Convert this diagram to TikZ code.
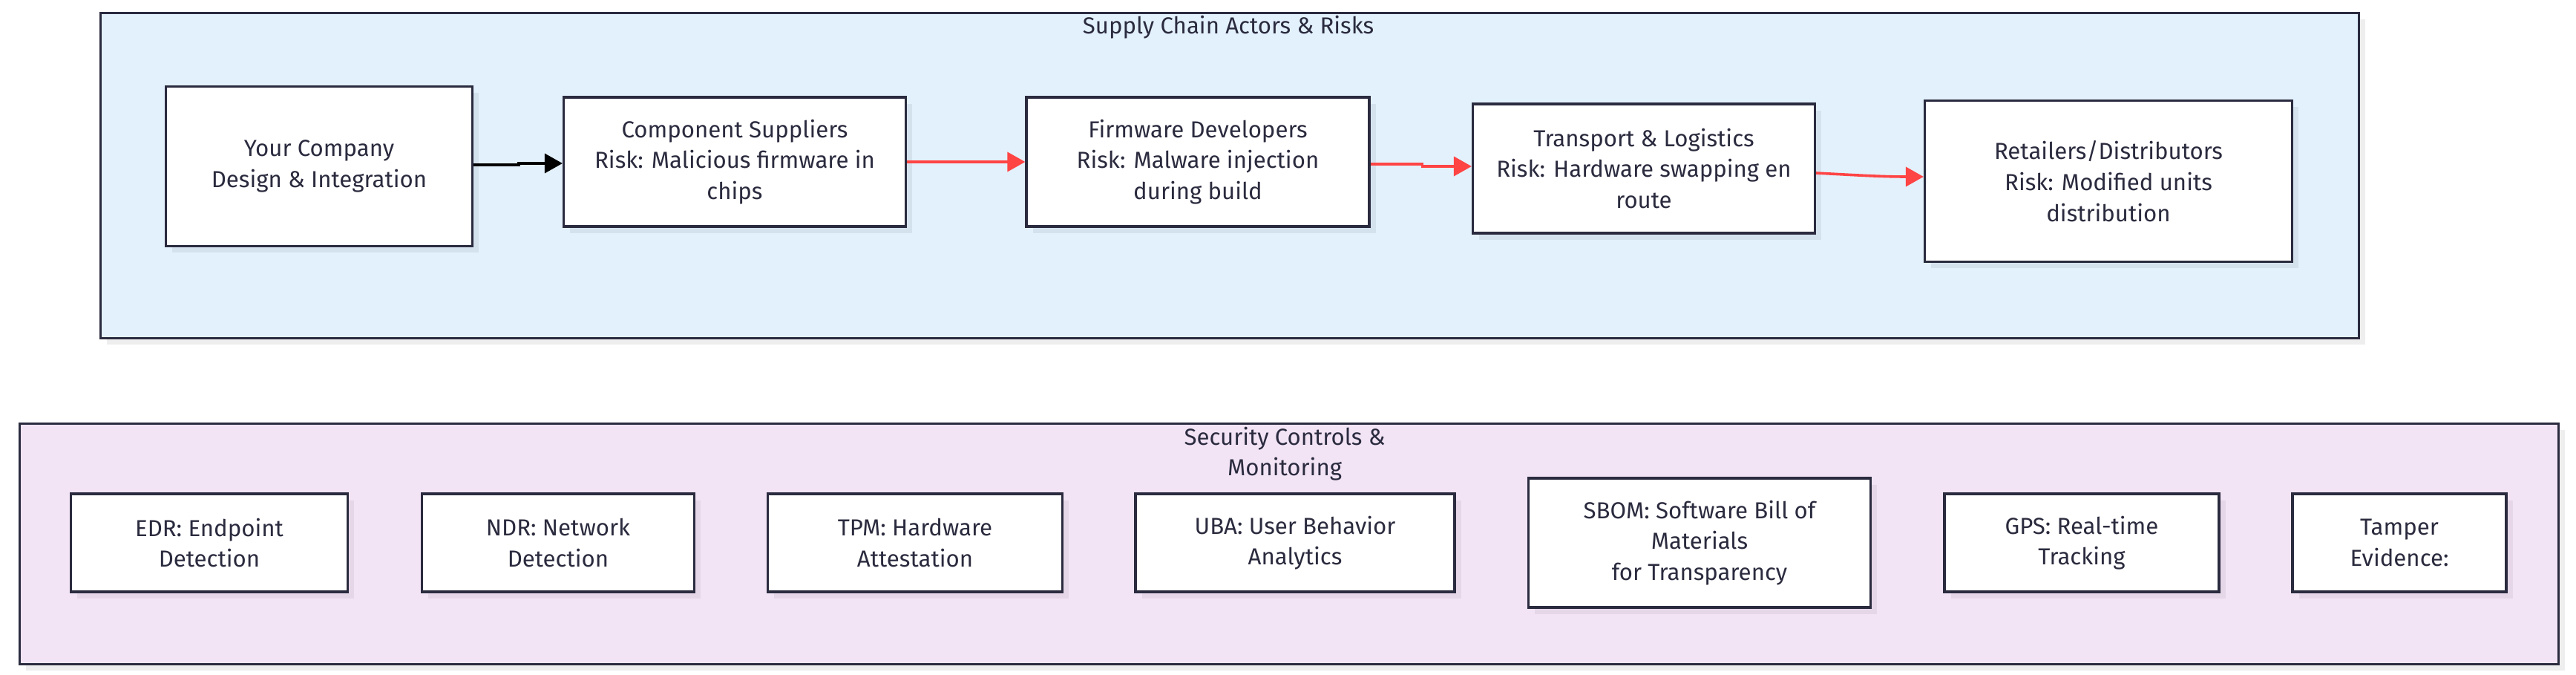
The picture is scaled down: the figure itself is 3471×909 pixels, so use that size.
\documentclass[tikz,border=0pt]{standalone}
\usepackage{fontspec}
\setmainfont{Fira Sans}
\usepackage{xcolor}
\usetikzlibrary{arrows.meta, positioning, shadows}

\definecolor{edgec}{HTML}{2B2B3F}
\definecolor{textc}{HTML}{2B2B3F}
\definecolor{riskred}{HTML}{FF4444}
\definecolor{actorfill}{HTML}{E3F1FC}
\definecolor{ctrlfill}{HTML}{F2E4F5}
\definecolor{actorshadow}{HTML}{D4E2EE}
\definecolor{ctrlshadow}{HTML}{E5D6E8}
\definecolor{groupshadow}{HTML}{EEEEEE}

\tikzset{
    boxsize/.style 2 args={minimum width=#1*0.25pt, minimum height=#2*0.25pt},
    group/.style={rectangle, draw=edgec, line width=0.8pt, inner sep=0,
        drop shadow={shadow xshift=2.2pt, shadow yshift=-2.2pt, fill=groupshadow, opacity=1}},
    grouptitle/.style={font=\fontsize{7.8pt}{10.4pt}\selectfont, text=textc, align=center},
    actor/.style={rectangle, draw=edgec, line width=0.8pt, fill=white, inner sep=0,
        align=center, text=textc, font=\fontsize{7.8pt}{10.4pt}\selectfont,
        drop shadow={shadow xshift=2.2pt, shadow yshift=-2.2pt, fill=actorshadow, opacity=1}},
    control/.style={rectangle, draw=edgec, line width=0.8pt, fill=white, inner sep=0,
        align=center, text=textc, font=\fontsize{7.8pt}{10.4pt}\selectfont,
        drop shadow={shadow xshift=2.2pt, shadow yshift=-2.2pt, fill=ctrlshadow, opacity=1}},
    flow/.style={-{Triangle[length=6pt, width=6.5pt]}, line width=0.9pt, draw=black},
    risk/.style={flow, draw=riskred}
}

\begin{document}
\begin{tikzpicture}[x=0.25pt, y=-0.25pt]
    \useasboundingbox (0,0) rectangle (3471,909);

    % supply chain group
    \node[group, fill=actorfill, boxsize={3043}{438}, anchor=north west] (actors) at (134,16) {};
    \node[grouptitle] (actorstitle) at (1655,37) {Supply Chain Actors \& Risks};

    \node[actor, boxsize={413}{215}] (company) at (430,224) {Your Company\\Design \& Integration};
    \node[actor, boxsize={461}{174}] (suppliers) at (990,218) {Component Suppliers\\Risk: Malicious firmware in\\chips};
    \node[actor, boxsize={462}{174}] (firmware) at (1614,218) {Firmware Developers\\Risk: Malware injection\\during build};
    \node[actor, boxsize={461}{174}] (transport) at (2215,227) {Transport \& Logistics\\Risk: Hardware swapping en\\route};
    \node[actor, boxsize={495}{217}] (retail) at (2841,244) {Retailers/Distributors\\Risk: Modified units\\distribution};

    \draw[flow] ([yshift=0.5pt]company.east) -- ++(61,0) |- ([yshift=-0.5pt]suppliers.west);
    \draw[risk] (suppliers.east) -- (firmware.west);
    \draw[risk] ([yshift=-0.75pt]firmware.east) -- ++(70,0) |- ([yshift=0.75pt]transport.west);
    \draw[risk] ([yshift=-1.5pt]transport.east) to[out=-3, in=180] ([yshift=1.5pt]retail.west);

    % security controls group
    \node[group, fill=ctrlfill, boxsize={3421}{324}, anchor=north west] (controls) at (25,569) {};
    \node[grouptitle] (controlstitle) at (1731,611) {Security Controls \&\\Monitoring};

    \node[control, boxsize={373}{132}] (edr) at (282,731) {EDR: Endpoint\\Detection};
    \node[control, boxsize={367}{132}] (ndr) at (752,731) {NDR: Network\\Detection};
    \node[control, boxsize={397}{132}] (tpm) at (1233,731) {TPM: Hardware\\Attestation};
    \node[control, boxsize={430}{132}] (uba) at (1745,731) {UBA: User Behavior\\Analytics};
    \node[control, boxsize={461}{174}] (sbom) at (2290,731) {SBOM: Software Bill of\\Materials\\for Transparency};
    \node[control, boxsize={370}{132}] (gps) at (2805,731) {GPS: Real-time\\Tracking};
    \node[control, boxsize={288}{132}] (tamper) at (3233,731) {Tamper\\Evidence:};
\end{tikzpicture}
\end{document}
